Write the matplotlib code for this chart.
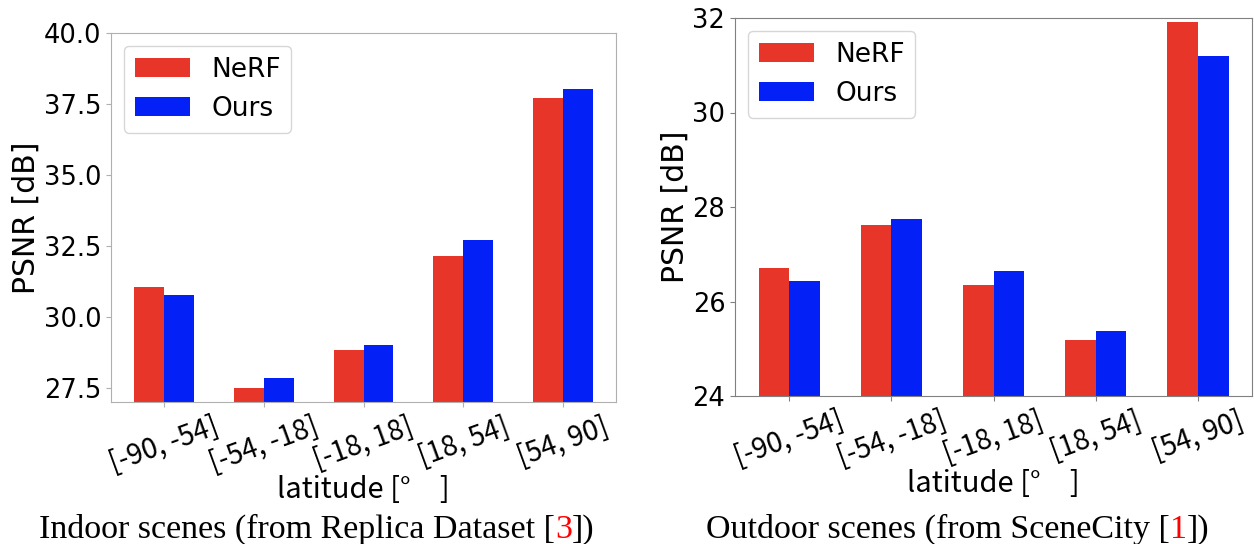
import matplotlib

matplotlib.use("Agg")
import matplotlib.pyplot as plt
import numpy as np

# latitude bins shared by both panels
bins = ["[-90, -54]", "[-54, -18]", "[-18, 18]", "[18, 54]", "[54, 90]"]

# indoor scenes (Replica)
indoor_nerf = [31.06, 27.50, 28.84, 32.15, 37.72]
indoor_ours = [30.77, 27.85, 29.01, 32.69, 38.04]
indoor_ticks = [27.5, 30.0, 32.5, 35.0, 37.5, 40.0]

# outdoor scenes (SceneCity)
outdoor_nerf = [26.70, 27.61, 26.35, 25.19, 31.91]
outdoor_ours = [26.44, 27.75, 26.65, 25.38, 31.20]
outdoor_ticks = [24, 26, 28, 30, 32]

RED = "#e8352a"
BLUE = "#0320f6"
W, H = 1254, 544
CJK = ["Noto Sans CJK JP", "DejaVu Sans"]


def draw_panel(ax, nerf, ours, yticks, ylim, spine_color, fmt):
    x = np.arange(len(bins))
    w = 0.3
    ax.bar(x - w / 2, nerf, w, color=RED, label="NeRF")
    ax.bar(x + w / 2, ours, w, color=BLUE, label="Ours")
    ax.set_ylim(*ylim)
    ax.set_yticks(yticks)
    ax.set_yticklabels([fmt.format(v) for v in yticks], fontsize=18.5)
    ax.set_xticks(x)
    ax.set_xticklabels(bins, rotation=20, fontsize=20, family=CJK)
    # full-width gap after the degree sign, as in the original
    ax.set_xlabel("latitude [°\u3000]", fontsize=21, family=CJK, labelpad=-3)
    ax.set_ylabel("PSNR [dB]", fontsize=21.5, labelpad=2)
    for s in ax.spines.values():
        s.set_color(spine_color)
    ax.tick_params(colors=spine_color, labelcolor="black", length=3.5)
    ax.legend(loc="upper left", fontsize=19, handlelength=2.1)


def caption(fig, xc, y, parts, size):
    r = fig.canvas.get_renderer()
    texts = [fig.text(0, y, s, color=c, va="baseline", fontsize=size,
                      family="Liberation Serif") for s, c in parts]
    widths = [t.get_window_extent(r).width for t in texts]
    px = xc * W - sum(widths) / 2
    for t, wd in zip(texts, widths):
        t.set_x(px / W)
        px += wd


fig = plt.figure(figsize=(W / 100, H / 100), dpi=100)
ax1 = fig.add_axes([111 / W, 1 - 402 / H, (616 - 111) / W, (402 - 33) / H])
ax2 = fig.add_axes([735 / W, 1 - 396 / H, (1252 - 735) / W, (396 - 18) / H])

draw_panel(ax1, indoor_nerf, indoor_ours, indoor_ticks, (27.0, 40.0), "#b0b0b0", "{:.1f}")
draw_panel(ax2, outdoor_nerf, outdoor_ours, outdoor_ticks, (24, 32), "#808080", "{:.0f}")

caption(fig, 317 / W, 1 - 538 / H,
        [("Indoor scenes (from Replica Dataset [", "black"), ("3", "red"), ("])", "black")], 24.5)
caption(fig, 958 / W, 1 - 538 / H,
        [("Outdoor scenes (from SceneCity [", "black"), ("1", "red"), ("])", "black")], 24.5)

fig.savefig("out.png", dpi=100)
